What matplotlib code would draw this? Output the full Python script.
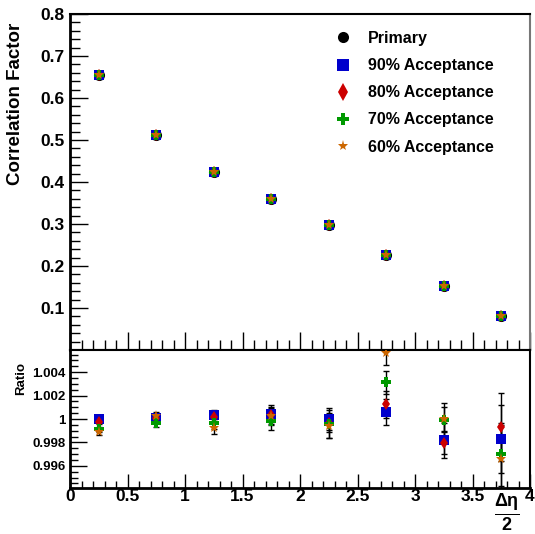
import matplotlib
matplotlib.use("Agg")
import matplotlib.pyplot as plt
from matplotlib.ticker import MultipleLocator, FixedLocator
from matplotlib.lines import Line2D

plt.rcParams["font.family"] = ["Liberation Sans", "DejaVu Sans"]
plt.rcParams["font.weight"] = "bold"
plt.rcParams["mathtext.fontset"] = "custom"
plt.rcParams["mathtext.rm"] = "Liberation Sans:bold"
plt.rcParams["mathtext.it"] = "Liberation Sans:bold"
plt.rcParams["mathtext.bf"] = "Liberation Sans:bold"

# --- data ---
x = [0.25, 0.75, 1.25, 1.75, 2.25, 2.75, 3.25, 3.75]

corr_primary = [0.655, 0.513, 0.424, 0.360, 0.297, 0.226, 0.153, 0.080]
corr_90 = [0.655, 0.513, 0.424, 0.360, 0.297, 0.226, 0.153, 0.080]
corr_80 = [0.655, 0.513, 0.424, 0.360, 0.297, 0.226, 0.153, 0.080]
corr_70 = [0.655, 0.513, 0.424, 0.360, 0.297, 0.226, 0.153, 0.080]
corr_60 = [0.655, 0.513, 0.424, 0.360, 0.297, 0.226, 0.153, 0.080]

ratio_90 = [1.0000, 1.0001, 1.0003, 1.00046, 1.0000, 1.00058, 0.99817, 0.99826]
ratio_80 = [0.99977, 1.00006, 1.00017, 1.0003, 0.9997, 1.00125, 0.99797, 0.9993]
ratio_70 = [0.99913, 0.99965, 0.99965, 0.9998, 0.9996, 1.00313, 0.99994, 0.99699]
ratio_60 = [0.99887, 1.00029, 0.99925, 1.00023, 0.99936, 1.00565, 1.0000, 0.99661]

err_90 = [0.0002, 0.0003, 0.0005, 0.00075, 0.0009, 0.00113, 0.0015, 0.0029]
err_80 = [0.0002, 0.0003, 0.0005, 0.0007, 0.0008, 0.00116, 0.00095, 0.0029]
err_70 = [0.0002, 0.0003, 0.0005, 0.00075, 0.0012, 0.0010, 0.00145, 0.0027]
err_60 = [0.0002, 0.0003, 0.00055, 0.0007, 0.0010, 0.0010, 0.0010, 0.0029]

labels = ["Primary", "90% Acceptance", "80% Acceptance", "70% Acceptance", "60% Acceptance"]

# colour, marker, size in plot, size in legend
STYLES = [
    ("black", "o", 8, 8),
    ("#0000cc", "s", 7.5, 8),
    ("#cc0000", "d", 6.5, 9),
    ("#009900", "P", 7.5, 8),
    ("#cc6600", "*", 8, 8),
]

fig = plt.figure(figsize=(5.35, 5.34), dpi=100)
ax1 = fig.add_axes([70 / 535, 1 - 350 / 534, 460 / 535, 336 / 534])
ax2 = fig.add_axes([70 / 535, 1 - 488 / 534, 460 / 535, 138 / 534])

# --- top panel ---
for ys, (c, m, ms, _) in zip([corr_primary, corr_90, corr_80, corr_70, corr_60], STYLES):
    ax1.plot(x, ys, linestyle="none", marker=m, color=c, markersize=ms,
             markeredgewidth=0)

ax1.set_xlim(0, 4)
ax1.set_ylim(0, 0.8)
ax1.yaxis.set_major_locator(FixedLocator([0.1, 0.2, 0.3, 0.4, 0.5, 0.6, 0.7, 0.8]))
ax1.yaxis.set_minor_locator(MultipleLocator(0.02))
ax1.xaxis.set_major_locator(MultipleLocator(0.5))
ax1.xaxis.set_minor_locator(MultipleLocator(0.1))
ax1.tick_params(axis="x", labelbottom=False)
ax1.tick_params(which="both", direction="in", top=False, right=False)
ax1.tick_params(which="major", length=13, width=1, labelsize=12.5, pad=4)
ax1.tick_params(which="minor", length=7, width=1)
ax1.set_ylabel("Correlation Factor", fontsize=13.5, fontweight="bold", ha="right")
ax1.yaxis.set_label_coords(-46 / 460, 1 - 9 / 336)
ax1.spines["left"].set_linewidth(2)
ax1.spines["bottom"].set_linewidth(1.5)
ax1.spines["top"].set_linewidth(1.5)
ax1.spines["right"].set_color("#777777")
ax1.spines["right"].set_linewidth(1.5)

handles = [Line2D([], [], linestyle="none", marker=m, color=c, markersize=lms,
                  markeredgewidth=0) for c, m, ms, lms in STYLES]
ax1.legend(handles, labels, loc="upper left", frameon=False,
           bbox_to_anchor=(335 / 535, 1 - 31 / 534), bbox_transform=fig.transFigure,
           borderaxespad=0, borderpad=0, handlelength=1.0, handletextpad=1.05,
           labelspacing=0.76, prop={"weight": "bold", "size": 11.5})

# --- ratio panel ---
ratio_sets = [(ratio_90, err_90), (ratio_80, err_80), (ratio_70, err_70), (ratio_60, err_60)]
for ys, es in ratio_sets:
    ax2.errorbar(x, ys, yerr=es, fmt="none", ecolor="black", elinewidth=1,
                 capsize=2.5, capthick=1, zorder=1)
for (ys, es), (c, m, ms, _) in zip(ratio_sets, STYLES[1:]):
    ax2.plot(x, ys, linestyle="none", marker=m, color=c, markersize=ms,
             markeredgewidth=0, zorder=3)

ax2.set_xlim(0, 4)
ax2.set_ylim(0.99411, 1.00589)
ax2.yaxis.set_major_locator(FixedLocator([0.996, 0.998, 1.0, 1.002, 1.004]))
ax2.yaxis.set_minor_locator(MultipleLocator(0.0005))
ax2.set_yticklabels(["0.996", "0.998", "1", "1.002", "1.004"])
ax2.xaxis.set_minor_locator(MultipleLocator(0.1))
ax2.set_xticks([0, 0.5, 1, 1.5, 2, 2.5, 3, 3.5, 4])
ax2.set_xticklabels(["0", "0.5", "1", "1.5", "2", "2.5", "3", "3.5", "4"])
ax2.tick_params(which="both", direction="in", top=False, right=False)
ax2.tick_params(axis="y", which="major", length=12, width=1, labelsize=9.5, pad=3)
ax2.tick_params(axis="y", which="minor", length=6, width=1)
ax2.tick_params(axis="x", which="major", length=10, width=1, labelsize=12.5, pad=1)
ax2.tick_params(axis="x", which="minor", length=5, width=1)
ax2.set_ylabel("Ratio", fontsize=9.5, fontweight="bold", ha="right")
ax2.yaxis.set_label_coords(-43 / 460, 1 - 12 / 138)
for sp in ax2.spines.values():
    sp.set_linewidth(1.5)
ax2.spines["left"].set_linewidth(2)
ax2.spines["bottom"].set_linewidth(2)

fig.text(507 / 535, 1 - 512 / 534, r"$\frac{\Delta\eta}{2}$", fontsize=18.5,
         ha="center", va="center")

fig.savefig("out.png", dpi=100)
